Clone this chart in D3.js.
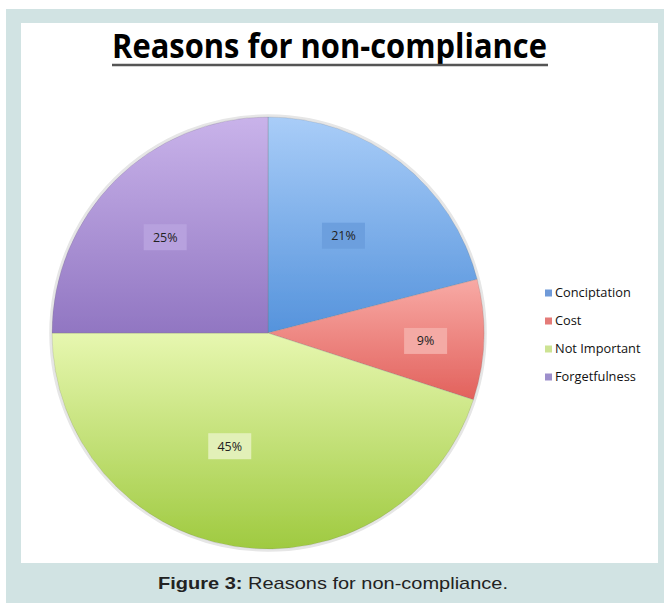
<!DOCTYPE html>
<html>
<head>
<meta charset="utf-8">
<script src="https://cdn.jsdelivr.net/npm/d3@7"></script>
<style>
  html, body { margin: 0; padding: 0; background: #fff; }
  svg { display: block; }
</style>
</head>
<body>
<script>
// Survey answers: why patients stopped taking their medication
const categories = ["Conciptation", "Cost", "Not Important", "Forgetfulness"];
const shares = [21, 9, 45, 25];
const valueLabels = ["21%", "9%", "45%", "25%"];

const W = 664, H = 603;
const svg = d3.select("body").append("svg").attr("width", W).attr("height", H);
const defs = svg.append("defs");

// Frame: teal border with a white drawing panel
svg.append("rect").attr("x", 6).attr("y", 9).attr("width", W - 6).attr("height", H - 9).attr("fill", "#d1e3e3");
svg.append("rect").attr("x", 21).attr("y", 23).attr("width", 637).attr("height", 540).attr("fill", "#ffffff");

// Title with underline
svg.append("text")
  .attr("x", 112).attr("y", 58)
  .attr("textLength", 435).attr("lengthAdjust", "spacingAndGlyphs")
  .attr("font-family", "'Open Sans', sans-serif").attr("font-weight", 700)
  .attr("font-size", 34).attr("fill", "#000")
  .text("Reasons for non-compliance");
svg.append("line").attr("x1", 112).attr("x2", 548).attr("y1", 65).attr("y2", 65)
  .attr("stroke", "#555").attr("stroke-width", 2.5);

// Slice styling: vertical gradient from light top to darker bottom
const sliceStyle = {
  "Conciptation":  { top: "#a9cdf8", bottom: "#5593dc", legend: "#6f9ad8", box: "#6c9fde" },
  "Cost":          { top: "#f8aaa5", bottom: "#e2615c", legend: "#e47b78", box: "#f4aaa5" },
  "Not Important": { top: "#e7f7b0", bottom: "#9fca40", legend: "#cde393", box: "#e2f0b8" },
  "Forgetfulness": { top: "#c9b3ea", bottom: "#9176c2", legend: "#9d8fcc", box: "#b7a1de" }
};

categories.forEach((c, i) => {
  const g = defs.append("linearGradient").attr("id", "grad" + i)
    .attr("x1", 0).attr("y1", 0).attr("x2", 0).attr("y2", 1);
  g.append("stop").attr("offset", "0%").attr("stop-color", sliceStyle[c].top);
  g.append("stop").attr("offset", "100%").attr("stop-color", sliceStyle[c].bottom);
});

const soften = defs.append("filter").attr("id", "soft")
  .attr("x", "-5%").attr("y", "-5%").attr("width", "110%").attr("height", "110%");
soften.append("feGaussianBlur").attr("stdDeviation", 0.7);

const cx = 268, cy = 333, R = 216;
const data = categories.map((c, i) => ({ category: c, value: shares[i], label: valueLabels[i], index: i }));

const pie = d3.pie().value(d => d.value).sort(null);
const arc = d3.arc().innerRadius(0).outerRadius(R);
const arcs = pie(data);

// Faint halo around the pie
svg.append("circle").attr("cx", cx).attr("cy", cy).attr("r", R + 1.5)
  .attr("fill", "none").attr("stroke", "#e6e6e6").attr("stroke-width", 2.5).attr("filter", "url(#soft)");

const pieG = svg.append("g").attr("transform", `translate(${cx},${cy})`).attr("filter", "url(#soft)");
pieG.selectAll("path.slice").data(arcs).join("path")
  .attr("class", "slice")
  .attr("d", arc)
  .attr("fill", d => `url(#grad${d.data.index})`)
  .attr("stroke", "rgba(120,120,120,0.35)")
  .attr("stroke-width", 0.8);

// Value labels on tinted boxes, placed along each slice's mid-angle
const nudge = {
  "Conciptation":  [0, 0],
  "Cost":          [0, 3],
  "Not Important": [-20, -2],
  "Forgetfulness": [-2, 5]
};
const labelRadius = { "Conciptation": 0.57, "Cost": 0.73, "Not Important": 0.54, "Forgetfulness": 0.66 };

const labG = svg.append("g").attr("transform", `translate(${cx},${cy})`);
arcs.forEach(d => {
  const mid = (d.startAngle + d.endAngle) / 2;
  const r = R * labelRadius[d.data.category];
  const n = nudge[d.data.category];
  const x = Math.sin(mid) * r + n[0];
  const y = -Math.cos(mid) * r + n[1];
  const g = labG.append("g").attr("transform", `translate(${x},${y})`);
  g.append("rect").attr("x", -21.5).attr("y", -13).attr("width", 43).attr("height", 26)
    .attr("fill", sliceStyle[d.data.category].box);
  g.append("text").attr("text-anchor", "middle").attr("dy", "0.35em")
    .attr("font-family", "'Open Sans', sans-serif").attr("font-size", 12.5).attr("fill", "#222")
    .text(d.data.label);
});

// Legend
const legend = svg.append("g").attr("transform", "translate(545,293)");
const rowY = d3.scalePoint().domain(categories).range([0, 84]);
categories.forEach(c => {
  const row = legend.append("g").attr("transform", `translate(0,${rowY(c)})`);
  row.append("rect").attr("x", 0).attr("y", -3.5).attr("width", 7).attr("height", 7)
    .attr("fill", sliceStyle[c].legend);
  row.append("text").attr("x", 10).attr("dy", "0.35em")
    .attr("font-family", "'Open Sans', sans-serif").attr("font-size", 12.8).attr("fill", "#111")
    .text(c);
});

// Caption
const cap = svg.append("text").attr("x", 333).attr("y", 589).attr("text-anchor", "middle")
  .attr("textLength", 350).attr("lengthAdjust", "spacingAndGlyphs")
  .attr("font-family", "'Liberation Sans', Arial, sans-serif").attr("font-size", 17).attr("fill", "#222");
cap.append("tspan").attr("font-weight", 700).text("Figure 3:");
cap.append("tspan").text(" Reasons for non-compliance.");
</script>
</body>
</html>
